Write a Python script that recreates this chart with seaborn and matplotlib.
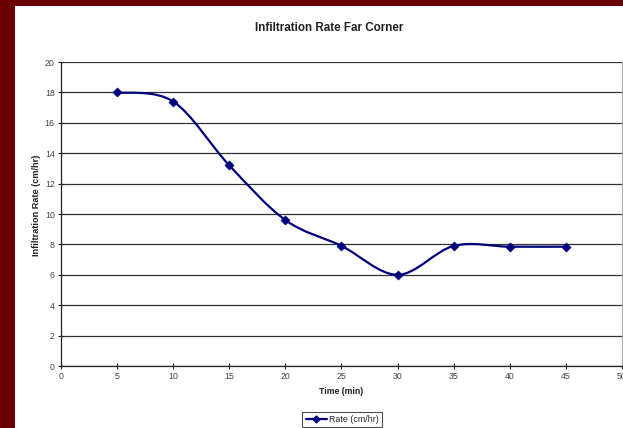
import numpy as np
import pandas as pd
import matplotlib
matplotlib.use("Agg")
import matplotlib.pyplot as plt
from matplotlib.path import Path
from matplotlib.patches import PathPatch, Rectangle
from matplotlib.lines import Line2D
import seaborn as sns

# Infiltration measurements at the far corner
time_min = [5, 10, 15, 20, 25, 30, 35, 40, 45]
rate_cm_hr = [18.0, 17.4, 13.2, 9.6, 7.9, 6.0, 7.9, 7.85, 7.85]
x_ticks = [0, 5, 10, 15, 20, 25, 30, 35, 40, 45, 50]
y_ticks = [0, 2, 4, 6, 8, 10, 12, 14, 16, 18, 20]

df = pd.DataFrame({"Time (min)": time_min, "Rate (cm/hr)": rate_cm_hr})

sns.set_theme(style="white")
plt.rcParams["font.family"] = ["Liberation Sans", "DejaVu Sans"]

W, H = 623, 428
fig = plt.figure(figsize=(W / 100, H / 100), dpi=100)
fig.patch.set_facecolor("white")

# dark red frame along the left and top edges
frame = "#6a0000"
fig.patches.append(Rectangle((0, 0), 15 / W, 1, transform=fig.transFigure,
                             facecolor=frame, edgecolor="none", zorder=0))
fig.patches.append(Rectangle((0, 1 - 6 / H), 1, 6 / H, transform=fig.transFigure,
                             facecolor=frame, edgecolor="none", zorder=0))

ax = fig.add_axes([61 / W, 1 - 366 / H, (622 - 61) / W, (366 - 62) / H])
ax.set_facecolor("white")

navy = "#00007f"

# smoothed connecting curve (cubic Bezier through each data point)
pts = np.column_stack([time_min, rate_cm_hr]).astype(float)
n = len(pts)
verts = [tuple(pts[0])]
codes = [Path.MOVETO]
for i in range(n - 1):
    p0 = pts[i - 1] if i > 0 else pts[i]
    p1 = pts[i]
    p2 = pts[i + 1]
    p3 = pts[i + 2] if i + 2 < n else pts[i + 1]
    c1 = p1 + (p2 - p0) / 6.0
    c2 = p2 - (p3 - p1) / 6.0
    verts += [tuple(c1), tuple(c2), tuple(p2)]
    codes += [Path.CURVE4] * 3
ax.add_patch(PathPatch(Path(verts, codes), facecolor="none", edgecolor=navy,
                       lw=1.6, zorder=3))

sns.scatterplot(data=df, x="Time (min)", y="Rate (cm/hr)", ax=ax, marker="D",
                s=22, color=navy, edgecolor=navy, zorder=4, legend=False)

ax.set_xlim(0, 50)
ax.set_ylim(0, 20)
ax.set_xticks(x_ticks)
ax.set_yticks(y_ticks)
ax.set_xticklabels([str(v) for v in x_ticks])
ax.set_yticklabels([str(v) for v in y_ticks])
ax.yaxis.grid(True, color="#333333", lw=0.9)
ax.xaxis.grid(False)
ax.spines["top"].set_visible(False)
ax.spines["right"].set_color("#aaaaaa")
ax.spines["right"].set_linewidth(0.8)
for s in ["left", "bottom"]:
    ax.spines[s].set_color("#222222")
    ax.spines[s].set_linewidth(0.9)
ax.tick_params(axis="both", which="major", direction="inout", length=5,
               width=0.8, color="#222222", labelsize=6.3, labelcolor="#444444",
               pad=2)
ax.tick_params(axis="x", bottom=True)
ax.tick_params(axis="y", left=True)

ax.set_xlabel("Time (min)", fontsize=6.3, fontweight="bold", color="#222222",
              labelpad=4)
ax.set_ylabel("Infiltration Rate (cm/hr)", fontsize=6.6, fontweight="bold",
              color="#222222", labelpad=3)
ax.yaxis.set_label_coords(-0.036, 0.53)

fig.text(329 / W, 1 - 28 / H, "Infiltration Rate Far Corner", ha="center",
         va="center", fontsize=8.4, fontweight="bold", color="#222222")

# legend box below the axis title
handle = Line2D([], [], color=navy, lw=1.6, marker="D", markersize=3.5)
leg = fig.legend([handle], ["Rate (cm/hr)"], loc="center",
                 bbox_to_anchor=(342 / W, 1 - 419.5 / H), fontsize=6.4,
                 frameon=True, fancybox=False, edgecolor="#222222",
                 handlelength=2.4, handletextpad=0.2, borderpad=0.35,
                 borderaxespad=0)
leg.get_frame().set_linewidth(0.8)

fig.savefig("out.png", dpi=100, facecolor=fig.get_facecolor())
